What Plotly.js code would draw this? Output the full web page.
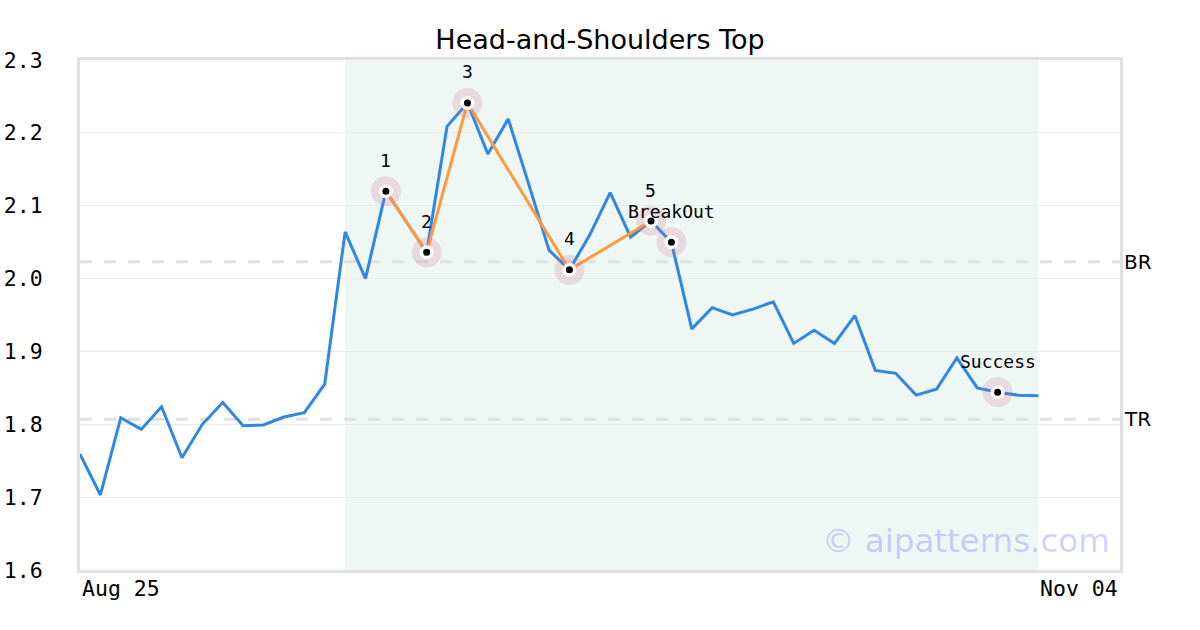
<!DOCTYPE html>
<html>
<head>
<meta charset="utf-8">
<script src="https://cdn.plot.ly/plotly-3.0.1.min.js"></script>
<style>html,body{margin:0;padding:0;background:#fff;}#chart{width:1200px;height:630px;}</style>
</head>
<body>
<div id="chart"></div>
<script>
// ---- data ----
const prices = [1.759, 1.703, 1.809, 1.793, 1.824, 1.754, 1.800, 1.830, 1.798, 1.799,
  1.810, 1.816, 1.855, 2.064, 2.000, 2.120, 2.078, 2.036, 2.209, 2.241,
  2.171, 2.219, 2.130, 2.039, 2.012, 2.060, 2.118, 2.057, 2.079, 2.050,
  1.931, 1.960, 1.950, 1.958, 1.968, 1.911, 1.929, 1.911, 1.949, 1.874,
  1.870, 1.840, 1.848, 1.891, 1.850, 1.844, 1.840, 1.839];
const xIndex = prices.map((_, i) => i);
const xLabels = ["Aug 25", "Nov 04"];
const xLabelPos = [0, 51];
const patternIdx = [15, 17, 19, 24, 28];
const patternLabels = ["1", "2", "3", "4", "5"];
const eventIdx = [29, 45];
const eventLabels = ["BreakOut", "Success"];
const breakoutLevel = 2.023;   // BR
const targetLevel = 1.807;     // TR
const levelLabels = ["BR", "TR"];
const zoneStart = 13, zoneEnd = 47;
const yTicks = [1.6, 1.7, 1.8, 1.9, 2.0, 2.1, 2.2, 2.3];

const markIdx = patternIdx.concat(eventIdx);
const markLabels = patternLabels.concat(eventLabels);

const mono = "DejaVu Sans Mono, monospace";
const sans = "DejaVu Sans, sans-serif";

const traces = [
  {x: xIndex, y: prices, mode: "lines", line: {color: "#2e86e6", width: 3}, hoverinfo: "skip"},
  {x: patternIdx, y: patternIdx.map(i => prices[i]), mode: "lines", line: {color: "#ff9a3c", width: 3}, hoverinfo: "skip"},
  {x: markIdx, y: markIdx.map(i => prices[i]), mode: "markers",
   marker: {size: 30, color: "rgba(205,120,150,0.22)"}, hoverinfo: "skip"},
  {x: markIdx, y: markIdx.map(i => prices[i]), mode: "markers",
   marker: {size: 10.5, color: "#000", line: {color: "#fff", width: 3.5}}, hoverinfo: "skip"}
];

const annotations = markIdx.map((i, k) => ({
  x: i, y: prices[i], xref: "x", yref: "y", text: markLabels[k], showarrow: false,
  yshift: 31, font: {family: mono, size: 18, color: "#000"}
}));
annotations.push(
  {x: 1, xref: "paper", y: breakoutLevel, yref: "y", text: levelLabels[0], showarrow: false,
   xanchor: "left", xshift: 2, font: {family: sans, size: 20, color: "#000"}},
  {x: 1, xref: "paper", y: targetLevel, yref: "y", text: levelLabels[1], showarrow: false,
   xanchor: "left", xshift: 2, font: {family: sans, size: 20, color: "#000"}},
  {x: xLabelPos[0], xref: "x", y: 0, yref: "paper", text: xLabels[0], showarrow: false,
   xanchor: "left", yanchor: "top", yshift: -4, font: {family: mono, size: 21.5, color: "#000"}},
  {x: xLabelPos[1], xref: "x", y: 0, yref: "paper", text: xLabels[1], showarrow: false,
   xanchor: "right", yanchor: "top", yshift: -4, font: {family: mono, size: 21.5, color: "#000"}},
  {x: 1, xref: "paper", y: 0, yref: "paper", text: "© aipatterns.com", showarrow: false,
   xanchor: "right", yanchor: "bottom", xshift: -8, yshift: 8,
   font: {family: sans, size: 32.5, color: "rgba(110,110,255,0.32)"}}
);

const layout = {
  width: 1200, height: 630,
  margin: {l: 80, r: 80, t: 60, b: 60},
  paper_bgcolor: "#fff", plot_bgcolor: "#fff",
  showlegend: false,
  title: {text: "Head-and-Shoulders Top", x: 0.5, xanchor: "center", y: 0.937, yanchor: "middle",
          font: {family: sans, size: 27, color: "#000"}},
  xaxis: {range: [0, 51], showgrid: false, zeroline: false, showticklabels: false, ticks: "",
          showline: true, mirror: true, linecolor: "#e0e0e0", linewidth: 3},
  yaxis: {range: [1.6, 2.3], tickvals: yTicks, ticktext: yTicks.map(v => v.toFixed(1)),
          showgrid: true, gridcolor: "#ebebeb", gridwidth: 1, zeroline: false, ticks: "",
          ticklabelstandoff: 30,
          tickfont: {family: mono, size: 21.5, color: "#000"},
          showline: true, mirror: true, linecolor: "#e0e0e0", linewidth: 3},
  shapes: [
    {type: "rect", xref: "x", yref: "paper", x0: zoneStart, x1: zoneEnd, y0: 0, y1: 1,
     fillcolor: "#eff7f4", line: {width: 0}, layer: "below"},
    {type: "line", xref: "paper", yref: "y", x0: 0, x1: 1, y0: breakoutLevel, y1: breakoutLevel,
     line: {color: "#e0e0e0", width: 3, dash: "12px,12px"}, layer: "below"},
    {type: "line", xref: "paper", yref: "y", x0: 0, x1: 1, y0: targetLevel, y1: targetLevel,
     line: {color: "#e0e0e0", width: 3, dash: "12px,12px"}, layer: "below"}
  ],
  annotations: annotations
};

Plotly.newPlot("chart", traces, layout, {displayModeBar: false, staticPlot: true});
</script>
</body>
</html>
